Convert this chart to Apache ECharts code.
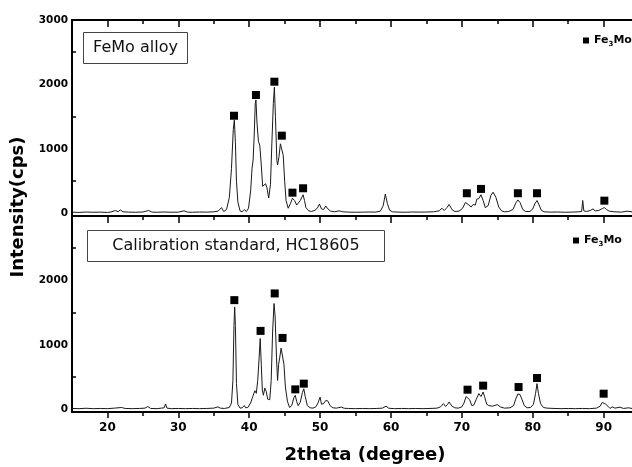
<!DOCTYPE html>
<html>
<head>
<meta charset="utf-8">
<script src="https://cdn.jsdelivr.net/npm/echarts@6/dist/echarts.min.js"></script>
<style>
  html, body { margin: 0; padding: 0; background: #fff; }
  #chart { width: 632px; height: 467px; }
</style>
</head>
<body>
<div id="chart"></div>
<script>
// XRD scans, [2theta, cps]
const alloyScan = [
  [15, 20], [16, 15], [17, 22], [18, 18], [19, 20], [20, 15], [20.5, 22], [21.1, 45], [21.5, 25], [21.8, 55],
  [22.2, 25], [23, 20], [24, 18], [25, 22], [25.8, 45], [26.3, 20], [27, 18], [28, 22], [29, 18], [30, 20],
  [30.8, 40], [31.3, 20], [32, 18], [33, 22], [34, 20], [35, 25], [35.6, 35], [36.1, 90], [36.4, 30], [36.8, 60],
  [37.2, 250], [37.5, 700], [37.75, 1300], [37.9, 1450], [38.05, 1100], [38.2, 500], [38.4, 180], [38.7, 40],
  [39.0, 25], [39.3, 60], [39.6, 30], [39.9, 80], [40.2, 350], [40.4, 700], [40.55, 830], [40.7, 1200],
  [40.85, 1700], [40.95, 1760], [41.1, 1400], [41.3, 1120], [41.5, 1050], [41.7, 750], [41.9, 420], [42.1, 400],
  [42.3, 460], [42.5, 400], [42.75, 240], [43.0, 450], [43.2, 1100], [43.4, 1700], [43.55, 1957], [43.7, 1500],
  [43.9, 820], [44.0, 750], [44.2, 880], [44.4, 1080], [44.6, 1110], [44.8, 900], [45.0, 500], [45.2, 200],
  [45.5, 80], [45.8, 150], [46.1, 235], [46.4, 200], [46.7, 130], [46.9, 110], [47.2, 200], [47.6, 290],
  [47.8, 200], [48.0, 90], [48.4, 40], [48.8, 30], [49.3, 50], [49.6, 80], [49.9, 145], [50.2, 70], [50.5, 60],
  [50.8, 115], [51.1, 70], [51.5, 35], [52, 25], [52.7, 40], [53.2, 25], [54, 20], [55, 18], [56, 20], [57, 22],
  [57.8, 20], [58.5, 35], [58.9, 120], [59.2, 300], [59.5, 150], [59.8, 50], [60.2, 25], [61, 20], [62, 18],
  [63, 22], [64, 20], [65, 22], [66, 25], [66.8, 40], [67.2, 80], [67.5, 45], [67.9, 90], [68.2, 140], [68.6, 60],
  [69, 30], [69.6, 35], [70.1, 80], [70.5, 170], [70.7, 185], [71.0, 130], [71.3, 100], [71.6, 140], [71.9, 130],
  [72.1, 220], [72.4, 230], [72.7, 290], [73.0, 200], [73.3, 90], [73.7, 120], [74.1, 280], [74.4, 330],
  [74.8, 250], [75.2, 100], [75.6, 40], [76, 25], [76.6, 30], [77.2, 60], [77.6, 160], [77.9, 210], [78.2, 170],
  [78.6, 60], [79, 30], [79.6, 30], [80.0, 70], [80.3, 150], [80.6, 200], [80.9, 130], [81.2, 50], [81.6, 25],
  [82.5, 20], [83.5, 22], [84.5, 18], [85.5, 20], [86.5, 25], [86.9, 30], [87.05, 200], [87.2, 40], [87.6, 30],
  [88.1, 45], [88.5, 70], [88.8, 40], [89.3, 45], [89.8, 75], [90.1, 90], [90.4, 60], [90.8, 35], [91.5, 25],
  [92.5, 20], [93.3, 35], [94, 25]
];

const standardScan = [
  [15, 15], [16, 12], [17, 18], [18, 12], [19, 15], [20, 12], [21, 20], [22, 30], [22.5, 15], [23.5, 12],
  [24.5, 15], [25.3, 20], [25.7, 45], [26.1, 15], [27, 12], [27.6, 20], [28.0, 25], [28.2, 85], [28.4, 20],
  [29, 12], [30, 15], [31, 12], [32, 15], [33, 12], [34, 15], [35, 20], [35.6, 40], [35.9, 20], [36.5, 15],
  [37.2, 30], [37.5, 100], [37.7, 450], [37.85, 1300], [37.95, 1590], [38.05, 1300], [38.2, 400], [38.4, 80],
  [38.7, 20], [39.0, 25], [39.3, 60], [39.5, 25], [39.8, 30], [40.2, 100], [40.5, 200], [40.8, 290], [41.0, 250],
  [41.2, 450], [41.4, 800], [41.55, 1100], [41.7, 700], [41.85, 300], [42.0, 220], [42.2, 330], [42.4, 280],
  [42.6, 160], [42.9, 150], [43.1, 450], [43.3, 1200], [43.5, 1643], [43.65, 1450], [43.85, 800], [44.0, 450],
  [44.15, 700], [44.3, 800], [44.5, 950], [44.7, 970], [44.9, 700], [45.1, 350], [45.4, 120], [45.7, 30],
  [46.0, 60], [46.3, 180], [46.5, 218], [46.7, 120], [46.9, 60], [47.2, 110], [47.5, 260], [47.7, 320],
  [47.9, 200], [48.2, 60], [48.6, 25], [49.0, 20], [49.4, 40], [49.7, 100], [50.0, 190], [50.2, 80], [50.5, 90],
  [50.8, 140], [51.1, 130], [51.4, 60], [51.8, 25], [52.3, 20], [53.0, 36], [53.4, 18], [54, 15], [55, 12],
  [56, 15], [57, 12], [58, 15], [58.8, 20], [59.3, 50], [59.7, 18], [60.5, 12], [61.5, 15], [62.5, 12], [63.5, 15],
  [64.5, 12], [65.5, 15], [66.5, 20], [67.0, 40], [67.4, 90], [67.7, 45], [68.0, 80], [68.2, 115], [68.6, 50],
  [69.0, 25], [69.5, 20], [70.0, 40], [70.3, 100], [70.6, 200], [70.8, 220], [71.1, 150], [71.4, 60], [71.7, 70],
  [72.0, 150], [72.4, 245], [72.7, 200], [73.0, 270], [73.2, 200], [73.5, 80], [73.8, 60], [74.3, 50], [75.0, 75],
  [75.4, 40], [76, 20], [76.8, 25], [77.3, 60], [77.6, 160], [77.9, 240], [78.2, 230], [78.5, 150], [78.8, 60],
  [79.2, 25], [79.7, 30], [80.1, 80], [80.4, 250], [80.6, 400], [80.8, 250], [81.1, 90], [81.5, 30], [82, 20],
  [83, 15], [84, 12], [85, 15], [86, 12], [87, 15], [88, 12], [89, 20], [89.5, 50], [89.8, 110], [90.0, 130],
  [90.3, 80], [90.6, 50], [90.9, 15], [91.2, 40], [91.6, 20], [92.3, 35], [92.8, 15], [93.5, 25], [94, 15]
];

// Fe3Mo reflections (marker positions)
const alloyPeaks = [[37.85, 1515], [40.95, 1837], [43.55, 2043], [44.6, 1206], [46.1, 322], [47.6, 390],
  [70.7, 313], [72.7, 380], [77.9, 313], [80.6, 313], [90.1, 198]];
const standardPeaks = [[37.9, 1695], [41.6, 1218], [43.6, 1799], [44.7, 1109], [46.5, 311], [47.7, 400],
  [70.8, 306], [73.0, 369], [78.0, 347], [80.6, 487], [90.0, 244]];

const majorTicks = [20, 30, 40, 50, 60, 70, 80, 90];
const minorTicks = [25, 35, 45, 55, 65, 75, 85];
const topLabels = [0, 1000, 2000, 3000];
const bottomLabels = [0, 1000, 2000];

const FONT = '"DejaVu Sans", Verdana, sans-serif';
const INK = '#000';

const chart = echarts.init(document.getElementById('chart'), null, { renderer: 'canvas' });

function xAx(gi, pos, ticks, len, inside, line, labels) {
  return {
    type: 'value', gridIndex: gi, position: pos, min: 15, max: 94,
    axisLine: { show: line, onZero: false, lineStyle: { color: INK, width: 2 } },
    axisTick: { show: true, inside: inside, length: len, customValues: ticks,
      lineStyle: { color: INK, width: 1.5 } },
    axisLabel: labels
      ? { customValues: labels, margin: 10, color: INK, fontFamily: FONT, fontWeight: 'bold', fontSize: 12,
          formatter: (v) => String(v) }
      : { show: false },
    splitLine: { show: false }
  };
}

function yAx(gi, labels) {
  return {
    type: 'value', gridIndex: gi, min: -40, max: 3000,
    axisLine: { show: true, lineStyle: { color: INK, width: 2 } },
    axisTick: { show: true, inside: true, length: 4, customValues: [500, 1500, 2500],
      lineStyle: { color: INK, width: 1.5 } },
    axisLabel: { customValues: labels, margin: 4, color: INK, fontFamily: FONT, fontWeight: 'bold', fontSize: 10.5,
      formatter: (v) => String(v) },
    splitLine: { show: false }
  };
}

const rich = {
  a: { fontFamily: FONT, fontWeight: 'bold', fontSize: 11, color: INK },
  s: { fontFamily: FONT, fontWeight: 'bold', fontSize: 7, color: INK, padding: [7, 0, 0, 0] }
};

function legendAt(left, top) {
  return {
    data: ['Fe3Mo'], left: left, top: top, icon: 'rect', itemWidth: 6, itemHeight: 6,
    selectedMode: false, formatter: () => '{a|Fe}{s|3}{a|Mo}',
    textStyle: { rich: rich }
  };
}

function scanSeries(data, gi) {
  return {
    type: 'line', data: data, xAxisIndex: gi === 0 ? 0 : 4, yAxisIndex: gi,
    showSymbol: false, silent: true,
    lineStyle: { color: '#1a1a1a', width: 1 }, z: 2
  };
}

function peakSeries(data, gi) {
  return {
    type: 'scatter', name: 'Fe3Mo', data: data, xAxisIndex: gi === 0 ? 0 : 4, yAxisIndex: gi,
    symbol: 'rect', symbolSize: 8, itemStyle: { color: INK, opacity: 1 }, z: 3
  };
}

function boxedLabel(x, y, w, h, text) {
  return {
    type: 'group', left: x, top: y,
    children: [
      { type: 'rect', shape: { x: 0, y: 0, width: w, height: h },
        style: { fill: '#fff', stroke: '#444', lineWidth: 1 } },
      { type: 'text', x: w / 2, y: h / 2,
        style: { text: text, font: '16px ' + FONT, fill: '#111', align: 'center', verticalAlign: 'middle' } }
    ]
  };
}

chart.setOption({
  animation: false,
  backgroundColor: '#fff',
  grid: [
    { left: 72, right: 0, top: 20, height: 196 },
    { left: 72, right: 0, top: 216, height: 196 }
  ],
  xAxis: [
    xAx(0, 'bottom', majorTicks, 7, false, true, null),
    xAx(0, 'bottom', minorTicks, 4, false, false, null),
    xAx(0, 'top', majorTicks, 7, true, true, null),
    xAx(0, 'top', minorTicks, 4, true, false, null),
    xAx(1, 'bottom', majorTicks, 6, false, true, majorTicks),
    xAx(1, 'bottom', minorTicks, 4, false, false, null)
  ],
  yAxis: [yAx(0, topLabels), yAx(1, bottomLabels)],
  legend: [legendAt(578, 30), legendAt(568, 230)],
  series: [
    scanSeries(alloyScan, 0),
    scanSeries(standardScan, 1),
    peakSeries(alloyPeaks, 0),
    peakSeries(standardPeaks, 1)
  ],
  graphic: [
    boxedLabel(83, 32, 104, 31, 'FeMo alloy'),
    boxedLabel(87, 230, 297, 31, 'Calibration standard, HC18605'),
    { type: 'text', x: 18, y: 207, rotation: Math.PI / 2,
      style: { text: 'Intensity(cps)', font: 'bold 18px ' + FONT, fill: INK, align: 'center', verticalAlign: 'middle' } },
    { type: 'text', x: 365, y: 455,
      style: { text: '2theta (degree)', font: 'bold 18px ' + FONT, fill: INK, align: 'center', verticalAlign: 'middle' } }
  ]
});
</script>
</body>
</html>
